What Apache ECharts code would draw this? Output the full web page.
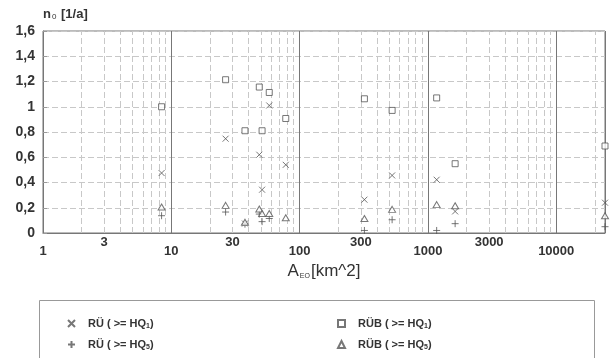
<!DOCTYPE html>
<html>
<head>
<meta charset="utf-8">
<script src="https://cdn.jsdelivr.net/npm/echarts@6/dist/echarts.min.js"></script>
<style>
  html, body {margin: 0; padding: 0; background: #fff;}
  #chart {width: 613px; height: 358px;}
</style>
</head>
<body>
<div id="chart"></div>
<script>
// catchment area A_EO [km^2] of each site
const areas = [8.4, 26.5, 37.5, 48.5, 51, 58, 78, 320, 526, 1170, 1630, 24000];
// n0 [1/a] per series, null = no value
const ruHq1 = [0.475, 0.747, 0.075, 0.62, 0.343, 1.01, 0.54, 0.264, 0.456, 0.422, 0.171, 0.24];
const ruHq5 = [0.137, 0.166, 0.07, 0.15, 0.09, 0.115, null, 0.02, 0.105, 0.02, 0.074, 0.05];
const rubHq1 = [1.0, 1.214, 0.81, 1.156, 0.81, 1.113, 0.907, 1.063, 0.971, 1.07, 0.549, 0.689];
const rubHq5 = [0.206, 0.219, 0.085, 0.19, 0.155, 0.155, 0.121, 0.115, 0.187, 0.225, 0.216, 0.137];

const seriesNames = ['RÜ ( >= HQ1)', 'RÜ ( >= HQ5)', 'RÜB ( >= HQ1)', 'RÜB ( >= HQ5)'];
const midLabels = [3, 30, 300, 3000];
const decades = [1, 10, 100, 1000, 10000];
const minorSteps = [2, 3, 4, 5, 6, 7, 8, 9];

const pts = (vals) => areas.map((a, i) => [a, vals[i]]).filter(p => p[1] != null);

const minorLines = [];
decades.forEach(d => minorSteps.forEach(s => {
  const v = d * s;
  if (v < 24000) {
    minorLines.push(midLabels.indexOf(v) >= 0 ? {xAxis: v, label: {show: true}} : {xAxis: v});
  }
}));

const ink = '#555';
const font = '"Liberation Sans", Arial, sans-serif';
const markStyle = {color: '#fff', borderColor: ink, borderWidth: 1};

const legendText = {
  color: '#333', fontSize: 11, fontWeight: 'bold', padding: [0, 0, 0, 8],
  rich: {s: {fontSize: 7, fontWeight: 'bold', color: '#333', verticalAlign: 'bottom', padding: [6, 0, 0, 0]}}
};
const legendFmt = n => n.replace(/HQ(\d)\)/, 'HQ{s|$1})');

const chart = echarts.init(document.getElementById('chart'));
chart.setOption({
  animation: false,
  textStyle: {fontFamily: font},
  grid: {left: 43, right: 8, top: 31, bottom: 125, show: true, borderColor: '#777', borderWidth: 1},
  xAxis: {
    type: 'log',
    logBase: 10,
    min: 1,
    max: 24000,
    axisLine: {lineStyle: {color: '#777'}},
    axisTick: {show: false},
    axisLabel: {color: '#333', fontSize: 13, fontWeight: 'bold', margin: 12, showMaxLabel: false,
      formatter: v => String(Math.round(v))},
    splitLine: {show: true, lineStyle: {color: '#777', width: 1}},
    name: '{a|A}{s|EO}{a|[km^2]}',
    nameLocation: 'middle',
    nameGap: 24,
    nameTextStyle: {
      verticalAlign: 'top',
      rich: {
        a: {fontSize: 17, color: '#333', fontFamily: font},
        s: {fontSize: 7, color: '#333', verticalAlign: 'bottom', padding: [8, 1, 0, 1], fontFamily: font}
      }
    }
  },
  yAxis: {
    type: 'value',
    min: 0,
    max: 1.6,
    interval: 0.2,
    axisLine: {show: true, lineStyle: {color: '#777'}},
    axisTick: {show: true, inside: true, length: 4, lineStyle: {color: '#999'}},
    axisLabel: {
      color: '#333', fontSize: 14, fontWeight: 'bold', margin: 8,
      formatter: v => String(+v.toFixed(1)).replace('.', ',')
    },
    splitLine: {show: true, lineStyle: {color: '#c8c8c8', type: [6, 3]}},
    name: '{a|n}{s|0}{a| [1/a]}',
    nameLocation: 'end',
    nameGap: 10,
    nameTextStyle: {
      align: 'left',
      rich: {
        a: {fontSize: 13, fontWeight: 'bold', color: '#333', fontFamily: font},
        s: {fontSize: 8, color: '#333', verticalAlign: 'bottom', padding: [5, 1, 0, 1], fontFamily: font}
      }
    }
  },
  legend: [
    {
      data: [seriesNames[0], seriesNames[1]],
      orient: 'vertical',
      left: 62, top: 313,
      itemWidth: 7, itemHeight: 7, itemGap: 9,
      formatter: legendFmt,
      textStyle: legendText
    },
    {
      data: [seriesNames[2], seriesNames[3]],
      orient: 'vertical',
      left: 332, top: 313,
      itemWidth: 7, itemHeight: 7, itemGap: 9,
      formatter: legendFmt,
      textStyle: legendText
    }
  ],
  graphic: [{
    type: 'rect',
    left: 37, top: 298,
    shape: {width: 555, height: 80},
    style: {fill: 'none', stroke: '#999', lineWidth: 1}
  }],
  series: [
    {
      name: seriesNames[0], type: 'scatter', z: 3,
      symbol: 'path://M0,0L10,10M10,0L0,10', symbolSize: 6,
      itemStyle: markStyle,
      data: pts(ruHq1)
    },
    {
      name: seriesNames[1], type: 'scatter', z: 3,
      symbol: 'path://M5,0L5,10M0,5L10,5', symbolSize: 7,
      itemStyle: markStyle,
      data: pts(ruHq5)
    },
    {
      name: seriesNames[2], type: 'scatter', z: 3,
      symbol: 'rect', symbolSize: 6,
      itemStyle: markStyle,
      data: pts(rubHq1)
    },
    {
      name: seriesNames[3], type: 'scatter', z: 3,
      symbol: 'triangle', symbolSize: [7, 6],
      itemStyle: markStyle,
      data: pts(rubHq5),
      markLine: {
        silent: true,
        symbol: 'none',
        z: 1,
        animation: false,
        lineStyle: {color: '#c8c8c8', width: 1, type: [6, 3]},
        label: {show: false, position: 'start', distance: 3, formatter: '{c}', color: '#333', fontSize: 13, fontWeight: 'bold', fontFamily: font},
        emphasis: {disabled: true},
        data: minorLines
      }
    }
  ]
});
</script>
</body>
</html>
